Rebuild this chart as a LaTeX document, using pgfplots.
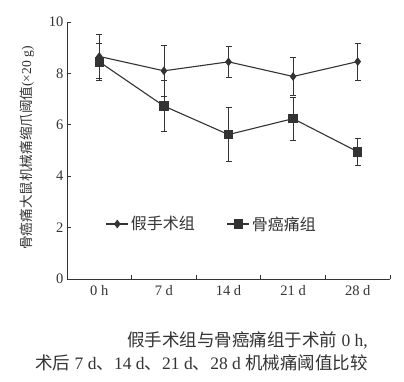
\documentclass[border=0pt]{standalone}
\usepackage{fontspec}
\setmainfont{Liberation Serif}
\newfontfamily\cjk{Noto Sans CJK SC}
\usepackage{pgfplots}
\pgfplotsset{compat=1.18}
\definecolor{ink}{HTML}{333333}
\begin{document}
\begin{tikzpicture}
\begin{axis}[
  at={(0,0)}, anchor=south west,
  scale only axis, width=323pt, height=257pt,
  xmin=-0.5, xmax=4.5, ymin=0, ymax=10,
  axis lines*=left,
  xtick={0,...,4}, xticklabels={0 h,7 d,14 d,21 d,28 d},
  major x tick style={draw=none},
  minor xtick={0.5,1.5,2.5,3.5,4.5},
  ytick={0,2,...,10},
  tick align=inside,
  major tick length=4pt, minor tick length=4pt,
  tick style={ink, line width=0.8pt},
  axis line style={line width=0.9pt, ink},
  ticklabel style={font=\fontsize{14.5}{14.5}\selectfont, text=ink},
  xticklabel style={yshift=-3pt},
  /pgf/number format/assume math mode=true,
  ylabel={\cjk 骨癌痛大鼠机械痛缩爪阈值\rmfamily(×20 g)},
  ylabel style={at={(axis description cs:-0.124,0.51)}, anchor=center, font=\fontsize{13.6}{13.6}\selectfont, text=ink},
  legend style={draw=none, fill=none, at={(axis description cs:0.11,0.214)}, anchor=west,
    font=\cjk\fontsize{16}{16}\selectfont, text=ink,
    /tikz/every even column/.append style={column sep=30pt}},
  legend columns=2,
  legend image code/.code={\draw[#1] (0pt,0pt) -- (22pt,0pt); \draw[#1, mark repeat=1] plot coordinates {(11pt,0pt)};},
  clip=false,
]
\addplot[ink, line width=1.1pt, mark=diamond*, mark size=3.5pt, mark options={fill=ink, solid},
  error bars/.cd, y dir=both, y explicit,
  error mark options={rotate=90, mark size=3pt, line width=0.8pt, ink},
  error bar style={line width=0.8pt, ink}]
  coordinates {
  (0,8.66) +- (0,0.85)
  (1,8.10) +- (0,0.98)
  (2,8.45) +- (0,0.62)
  (3,7.88) +- (0,0.75)
  (4,8.46) +- (0,0.72)
  };
\addlegendentry{假手术组}
\addplot[ink, line width=1.1pt, mark=square*, mark size=4.2pt, mark options={fill=ink, solid},
  error bars/.cd, y dir=both, y explicit,
  error mark options={rotate=90, mark size=3pt, line width=0.8pt, ink},
  error bar style={line width=0.8pt, ink}]
  coordinates {
  (0,8.45) +- (0,0.72)
  (1,6.73) +- (0,1.00)
  (2,5.62) +- (0,1.04)
  (3,6.24) +- (0,0.84)
  (4,4.95) +- (0,0.52)
  };
\addlegendentry{骨癌痛组}
\node[anchor=north east, align=right, font=\fontsize{17.5}{23}\selectfont, text=ink, inner sep=0pt]
  at (axis description cs:0.932,-0.203)
  {{\cjk 假手术组与骨癌痛组于术前} 0 h,\\
   {\cjk 术后} 7 d{\cjk 、}14 d{\cjk 、}21 d{\cjk 、}28 d {\cjk 机械痛阈值比较}};
\end{axis}
\pgfresetboundingbox
\path (-67pt,-102pt) rectangle (337pt,279pt);
\end{tikzpicture}
\end{document}
